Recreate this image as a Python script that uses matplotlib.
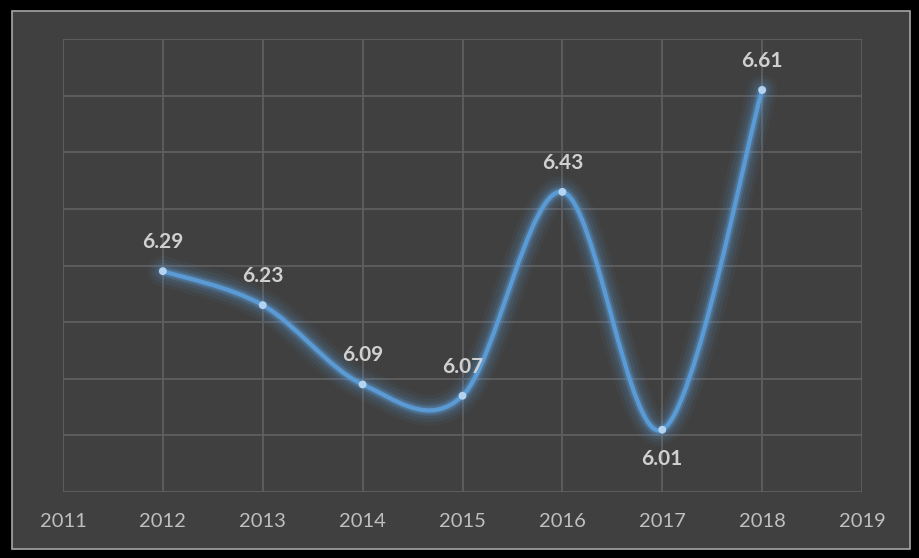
import numpy as np
import matplotlib.pyplot as plt
from matplotlib.path import Path
from matplotlib.patches import PathPatch, Rectangle

years = [2012, 2013, 2014, 2015, 2016, 2017, 2018]
values = [6.29, 6.23, 6.09, 6.07, 6.43, 6.01, 6.61]
tick_years = list(range(2011, 2020))
# label above (+1) or below (-1) the point
label_side = [1, 1, 1, 1, 1, -1, 1]

BG = '#404040'
LINE = '#5b9bd5'


def smooth_path(xs, ys):
    # Excel-style smoothed line: cubic Bezier segments (Catmull-Rom control points)
    pts = np.column_stack([xs, ys]).astype(float)
    verts = [pts[0]]
    codes = [Path.MOVETO]
    n = len(pts)
    for i in range(n - 1):
        p0 = pts[max(i - 1, 0)]
        p1 = pts[i]
        p2 = pts[i + 1]
        p3 = pts[min(i + 2, n - 1)]
        verts += [p1 + (p2 - p0) / 6, p2 - (p3 - p1) / 6, p2]
        codes += [Path.CURVE4] * 3
    return Path(verts, codes)


fig = plt.figure(figsize=(9.19, 5.58), dpi=100, facecolor='black')
fig.patches.append(Rectangle((12 / 919, 9 / 558), 898 / 919, 538 / 558,
                             transform=fig.transFigure, facecolor=BG,
                             edgecolor='#a6a6a6', linewidth=1.2, zorder=-10))

ax = fig.add_axes([63 / 919, 66 / 558, 799 / 919, 453 / 558])
ax.patch.set_alpha(0)
ax.set_xlim(2011, 2019)
ax.set_ylim(5.9, 6.7)
ax.set_xticks(tick_years)
ax.set_xticklabels([str(y) for y in tick_years], fontfamily='Lato',
                   fontsize=14.5, color='#bfbfbf')
ax.set_yticks(np.arange(5.9, 6.71, 0.1))
ax.tick_params(axis='x', length=0, pad=15)
ax.tick_params(axis='y', length=0, labelleft=False)
ax.grid(True, color='#5f5f5f', linewidth=1.3)
for s in ax.spines.values():
    s.set_visible(False)

path = smooth_path(years, values)
# soft glow around the line
for lw, a in [(22, 0.06), (17, 0.08), (12, 0.12), (8, 0.2), (5.5, 0.3)]:
    ax.add_patch(PathPatch(path, facecolor='none', edgecolor=LINE,
                           linewidth=lw, alpha=a, capstyle='round', zorder=3))
ax.add_patch(PathPatch(path, facecolor='none', edgecolor=LINE,
                       linewidth=3, capstyle='round', zorder=4))
ax.scatter(years, values, s=32, color='#b4d3f0', edgecolor='none', zorder=5)

for x, y, side in zip(years, values, label_side):
    ax.annotate(f'{y:.2f}', (x, y), xytext=(0, 21 * side),
                textcoords='offset points', ha='center', va='center',
                fontfamily='Lato', fontweight='bold', fontsize=15,
                color='#d0d0d0', zorder=6)

fig.savefig('out.png', dpi=100, facecolor='black')
